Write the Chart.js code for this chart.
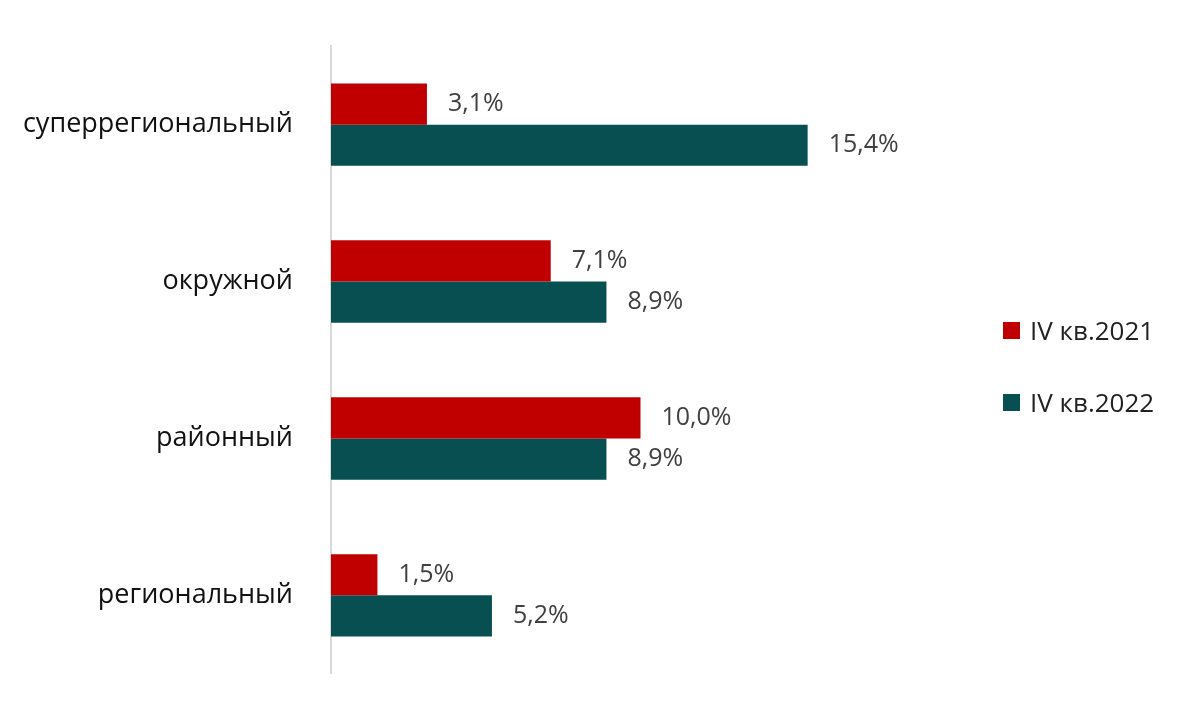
<!DOCTYPE html>
<html lang="ru">
<head>
<meta charset="UTF-8">
<title>Chart</title>
<script src="https://cdn.jsdelivr.net/npm/chart.js@4/dist/chart.umd.min.js"></script>
<style>
    body { margin: 0; background: #fff; font-family: "Open Sans", sans-serif; }
    .wrap { position: relative; width: 1200px; height: 720px; }
    .legend { position: absolute; left: 1003px; top: 312px; font-size: 26px; color: #222; }
    .legend div { display: flex; align-items: center; height: 36px; margin-bottom: 36px; }
    .legend span { display: inline-block; width: 17px; height: 17px; margin-right: 10px; }
</style>
</head>
<body>
<div class="wrap">
    <canvas id="c" width="1200" height="720"></canvas>
    <div class="legend" id="legend"></div>
</div>
<script>
    const categories = ['суперрегиональный', 'окружной', 'районный', 'региональный'];
    const series2021 = [3.1, 7.1, 10.0, 1.5];
    const series2022 = [15.4, 8.9, 8.9, 5.2];
    const seriesNames = ['IV кв.2021', 'IV кв.2022'];
    const colors = ['#c00000', '#074f51'];

    document.getElementById('legend').innerHTML = seriesNames
        .map((n, i) => `<div><span style="background:${colors[i]}"></span>${n}</div>`).join('');

    // value labels next to bar ends
    const valueLabels = {
        id: 'valueLabels',
        afterDatasetsDraw(chart) {
            const ctx = chart.ctx;
            ctx.save();
            ctx.font = '25px "Open Sans"';
            ctx.fillStyle = '#404040';
            ctx.textBaseline = 'middle';
            chart.data.datasets.forEach((ds, i) => {
                chart.getDatasetMeta(i).data.forEach((bar, j) => {
                    ctx.fillText(ds.data[j].toFixed(1).replace('.', ',') + '%', bar.x + 21, bar.y);
                });
            });
            ctx.restore();
        }
    };

    new Chart(document.getElementById('c'), {
        type: 'bar',
        data: {
            labels: categories,
            datasets: [
                { label: seriesNames[0], data: series2021, backgroundColor: colors[0] },
                { label: seriesNames[1], data: series2022, backgroundColor: colors[1] }
            ]
        },
        options: {
            indexAxis: 'y',
            responsive: false,
            animation: false,
            layout: { padding: { top: 31, bottom: 25, right: 250 } },
            datasets: { bar: { categoryPercentage: 0.525, barPercentage: 1 } },
            plugins: { legend: { display: false }, tooltip: { enabled: false } },
            scales: {
                x: { display: false, min: 0, max: 20 },
                y: {
                    afterFit: s => { s.width = 331; },
                    grid: { display: false },
                    border: { color: '#d9d9d9', width: 2 },
                    ticks: { color: '#111', font: { size: 27, family: 'Open Sans' }, padding: 30 }
                }
            }
        },
        plugins: [valueLabels]
    });
</script>
</body>
</html>
